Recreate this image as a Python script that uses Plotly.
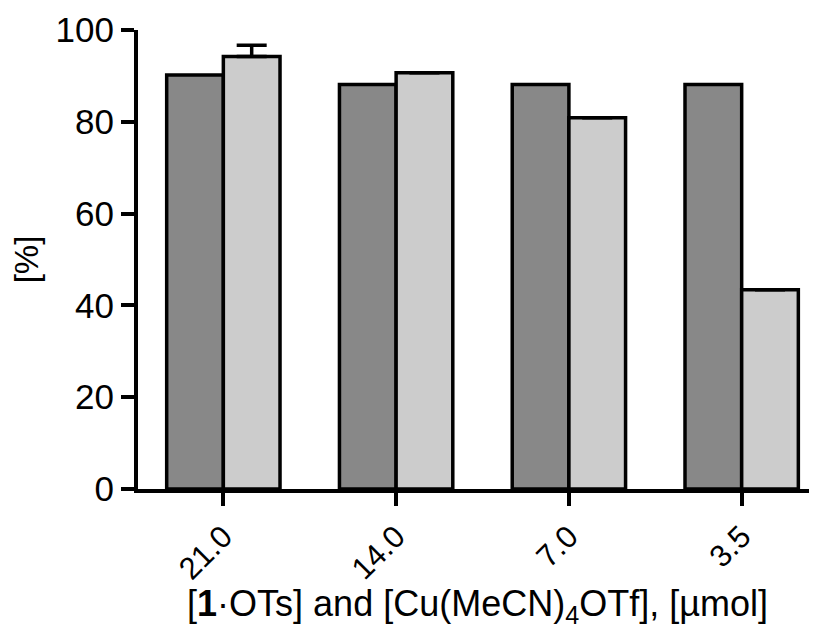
import plotly.graph_objects as go

categories = ["21.0", "14.0", "7.0", "3.5"]
dark_values = [90.2, 88.1, 88.1, 88.1]
light_values = [94.2, 90.7, 80.9, 43.4]
light_errors_plus = [2.5, None, None, None]
light_errors_minus = [0, None, None, None]
y_ticks = [0, 20, 40, 60, 80, 100]

FONT = "Liberation Sans, Arial, sans-serif"

# The page body has an 8px default margin, so the figure is offset by 8px.
fig = go.Figure()
fig.add_trace(go.Bar(
    x=categories, y=dark_values,
    marker=dict(color="#888888", line=dict(color="black", width=3.5)),
    showlegend=False,
))
fig.add_trace(go.Bar(
    x=categories, y=light_values,
    marker=dict(color="#cccccc", line=dict(color="black", width=3.5)),
    error_y=dict(type="data", array=light_errors_plus, symmetric=False,
                 arrayminus=light_errors_minus, visible=True,
                 color="black", thickness=3.5, width=15),
    showlegend=False,
))

fig.update_layout(
    width=809, height=621,
    margin=dict(l=130, r=0, t=22, b=140),
    paper_bgcolor="white", plot_bgcolor="white",
    barmode="group", bargap=0.344, bargroupgap=0,
    font=dict(family=FONT, color="black"),
)
fig.update_xaxes(
    type="category", range=[-0.494, 3.436], automargin=False,
    showline=True, linecolor="black", linewidth=4,
    ticks="outside", ticklen=13, tickwidth=4, tickcolor="black",
    tickangle=-45, tickfont=dict(size=31, family=FONT),
    title=dict(text="[<b>1</b>·OTs] and [Cu(MeCN)<sub>4</sub>OTf], [µmol]",
               font=dict(size=36, family=FONT), standoff=8),
    showgrid=False, zeroline=False,
)
fig.update_yaxes(
    range=[0, 100], tickvals=y_ticks, automargin=False,
    showline=True, linecolor="black", linewidth=4,
    ticks="outside", ticklen=13, tickwidth=4, tickcolor="black",
    tickfont=dict(size=35, family=FONT),
    title=dict(text="[%]", font=dict(size=33, family=FONT), standoff=18),
    showgrid=False, zeroline=False,
)

fig.write_html("out.html")
